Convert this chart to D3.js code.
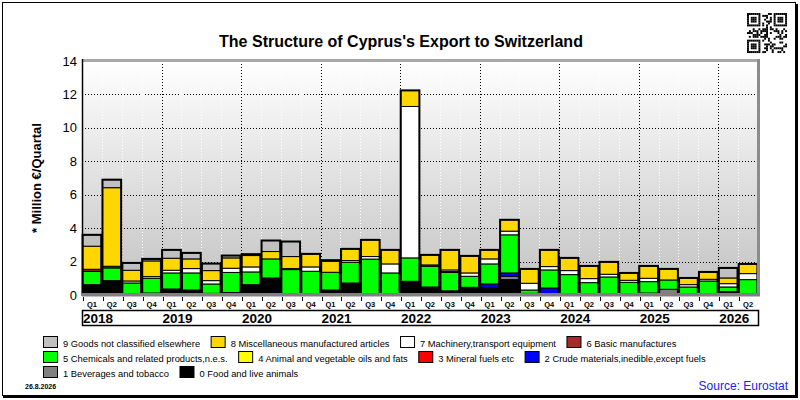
<!DOCTYPE html>
<html><head><meta charset="utf-8">
<script src="https://cdn.jsdelivr.net/npm/d3@7"></script>
<style>body{margin:0;background:#fff}svg{display:block;font-family:"Liberation Sans",Arial,sans-serif}</style>
</head><body><svg id="c" width="800" height="400"></svg>
<script>
// ---- data ----
const periods = ["2018Q1","2018Q2","2018Q3","2018Q4","2019Q1","2019Q2","2019Q3","2019Q4",
  "2020Q1","2020Q2","2020Q3","2020Q4","2021Q1","2021Q2","2021Q3","2021Q4",
  "2022Q1","2022Q2","2022Q3","2022Q4","2023Q1","2023Q2","2023Q3","2023Q4",
  "2024Q1","2024Q2","2024Q3","2024Q4","2025Q1","2025Q2","2025Q3","2025Q4",
  "2026Q1","2026Q2"];
const quarterLabels = ["Q1","Q2","Q3","Q4"];
const years = ["2018","2019","2020","2021","2022","2023","2024","2025","2026"];
const yTicks = [0,2,4,6,8,10,12,14];

const food    = [0.62,0.86,0.05,0.12,0.36,0.3,0.1,0.15,0.62,1.02,0,0,0.3,0.72,0.05,0,0.82,0.48,0.25,0.46,0.46,0.92,0,0,0,0,0,0,0.12,0,0,0,0.2,0];
const bev     = [0,0,0,0,0,0,0,0,0,0,0,0,0,0,0,0,0,0,0,0,0,0.2,0,0,0,0,0,0,0,0.34,0,0,0,0];
const crude   = [0,0,0,0,0,0,0,0,0,0,0,0,0,0,0,0,0,0,0,0,0.2,0.2,0.1,0.42,0,0,0,0,0,0,0,0,0,0];
const mineral = [0,0,0,0,0,0,0,0,0,0,0,0,0,0,0,0,0,0,0,0,0,0,0,0,0,0,0,0,0,0,0,0,0,0];
const animal  = [0,0,0,0,0,0,0,0,0,0,0,0,0,0,0,0,0,0,0,0,0,0,0,0,0,0,0,0,0,0,0,0,0,0];
const chem    = [0.8,0.76,0.67,0.88,0.96,1.02,0.56,1.2,0.76,1.14,1.52,1.42,1.06,1.24,2.1,1.32,1.4,1.24,1.1,0.66,1.2,2.28,0.2,1.08,1.22,0.74,1.08,0.76,0.68,0.56,0.48,0.84,0.28,0.92];
const basic   = [0.12,0.1,0,0,0,0,0,0,0,0,0.06,0,0,0,0,0,0,0.08,0.05,0,0,0,0,0,0,0,0,0,0,0,0,0,0,0];
const mach    = [0,0,0.12,0.1,0.16,0.26,0.2,0.25,0.3,0,0,0.26,0,0.1,0.15,0.54,9.06,0,0.1,0.2,0.3,0.22,0.4,0.2,0.24,0.24,0.16,0.12,0.2,0,0.14,0.1,0.2,0.36];
const misc    = [1.38,4.7,0.64,0.94,0.72,0.58,0.6,0.62,0.68,0.44,0.72,0.78,0.66,0.7,1.0,0.84,0.96,0.6,1.2,1.02,0.54,0.68,0.86,1.0,0.76,0.76,0.74,0.44,0.74,0.66,0.4,0.44,0.34,0.58];
const other   = [0.68,0.48,0.44,0.12,0.5,0.36,0.42,0.14,0.08,0.66,0.9,0,0.06,0,0,0,0,0,0,0,0,0,0,0,0,0,0,0,0,0,0,0,0.6,0];

const seriesKeys   = ["food","bev","crude","mineral","animal","chem","basic","mach","misc","other"];
const seriesNames  = ["0 Food and live animals","1 Beverages and tobacco","2 Crude materials,inedible,except fuels",
  "3 Mineral fuels etc","4 Animal and vegetable oils and fats","5 Chemicals and related products,n.e.s.",
  "6 Basic manufactures","7 Machinery,transport equipment","8 Miscellaneous manufactured articles",
  "9 Goods not classified elsewhere"];
const seriesColors = ["#000000","#808080","#0000ff","#ff0000","#ffff00","#00ff00","#a52a2a","#ffffff","#ffd700","#c0c0c0"];
const seriesValues = [food,bev,crude,mineral,animal,chem,basic,mach,misc,other];
const legendRows = [[9,8,7,6],[5,4,3,2],[1,0]];

const table = periods.map((p,i)=>{const o={period:p}; seriesKeys.forEach((k,j)=>o[k]=seriesValues[j][i]); return o;});

// ---- drawing ----
const svg = d3.select("#c");
const L=82, R=758, T=61, B=295;

// outer frame
svg.append("rect").attr("x",2.5).attr("y",2.5).attr("width",793).attr("height",393).attr("fill","#fff").attr("stroke","#000").attr("stroke-width",1);
svg.append("line").attr("x1",3).attr("x2",798).attr("y1",396.5).attr("y2",396.5).attr("stroke","#000").attr("stroke-width",3);
svg.append("line").attr("x1",796.5).attr("x2",796.5).attr("y1",4).attr("y2",398).attr("stroke","#000").attr("stroke-width",3);

const x = d3.scaleBand().domain(periods).range([L,R]).paddingInner(0.06).paddingOuter(0.03);
const y = d3.scaleLinear().domain([0,14]).range([B,T]);
const step = x.step();

const defs = svg.append("defs");
const g = defs.append("linearGradient").attr("id","bg").attr("x1",0).attr("y1",0).attr("x2",0).attr("y2",1);
g.append("stop").attr("offset","0%").attr("stop-color","#ffffff");
g.append("stop").attr("offset","100%").attr("stop-color","#c2c2c2");

svg.append("rect").attr("x",L).attr("y",T).attr("width",R-L).attr("height",B-T).attr("fill","url(#bg)");

// grid
svg.append("g").selectAll("line").data(yTicks.filter(v=>v>0&&v<14)).join("line")
  .attr("x1",L).attr("x2",R).attr("y1",d=>Math.round(y(d))+0.5).attr("y2",d=>Math.round(y(d))+0.5)
  .attr("stroke","#000").attr("stroke-width",1).attr("stroke-dasharray","1,2");
const bounds = d3.range(1,periods.length);
svg.append("g").selectAll("line").data(bounds).join("line")
  .attr("x1",i=>Math.round(L+i*step)+0.5).attr("x2",i=>Math.round(L+i*step)+0.5)
  .attr("y1",T).attr("y2",B)
  .attr("stroke",i=>i%4===0?"#000":"#fff").attr("stroke-width",1).attr("stroke-dasharray","1,2");

// stacked bars
const stack = d3.stack().keys(seriesKeys)(table);
const bw = x.bandwidth();
const barG = svg.append("g");
stack.forEach((layer,j)=>{
  barG.append("g").selectAll("rect").data(layer.filter(d=>d[1]-d[0]>0)).join("rect")
    .attr("x",d=>x(d.data.period)).attr("width",bw)
    .attr("y",d=>y(d[1])).attr("height",d=>y(d[0])-y(d[1]))
    .attr("fill",seriesColors[j]).attr("stroke","#000").attr("stroke-width",1);
});
const totals = table.map(d=>({period:d.period,total:d3.sum(seriesKeys,k=>d[k])}));
barG.append("g").selectAll("rect").data(totals).join("rect")
  .attr("x",d=>x(d.period)).attr("width",bw)
  .attr("y",d=>y(d.total)).attr("height",d=>y(0)-y(d.total))
  .attr("fill","none").attr("stroke","#000").attr("stroke-width",2);

// plot frame
svg.append("line").attr("x1",L).attr("x2",R+2).attr("y1",T-0.5).attr("y2",T-0.5).attr("stroke","#a8a8a8").attr("stroke-width",3);
svg.append("line").attr("x1",R+0.5).attr("x2",R+0.5).attr("y1",T-2).attr("y2",B).attr("stroke","#8c8c8c").attr("stroke-width",3);
svg.append("line").attr("x1",L+0.5).attr("x2",L+0.5).attr("y1",T-2).attr("y2",B).attr("stroke","#000").attr("stroke-width",1.5);
svg.append("rect").attr("x",L).attr("y",293).attr("width",R-L+2).attr("height",3.5).attr("fill","#808080");

// x ticks and labels
svg.append("g").selectAll("line").data(d3.range(0,periods.length)).join("line")
  .attr("x1",i=>Math.round(L+i*step)+1.5).attr("x2",i=>Math.round(L+i*step)+1.5)
  .attr("y1",297).attr("y2",301).attr("stroke","#000").attr("stroke-width",1);
svg.append("g").selectAll("text").data(periods).join("text")
  .attr("x",d=>x(d)+bw/2).attr("y",306.5).attr("text-anchor","middle")
  .attr("font-size","7.5px").attr("font-weight","bold").attr("fill","#000")
  .text(d=>quarterLabels[+d.slice(5)-1]);

svg.append("rect").attr("x",L+0.5).attr("y",310.5).attr("width",R-L).attr("height",15)
  .attr("fill","#fff").attr("stroke","#000").attr("stroke-width",1.5);
svg.append("g").selectAll("text").data(years).join("text")
  .attr("x",(d,i)=>L+1+i*4*step).attr("y",322.5)
  .attr("font-size","13.5px").attr("font-weight","bold").attr("fill","#000").text(d=>d);

// y ticks
svg.append("g").selectAll("text").data(yTicks).join("text")
  .attr("x",77).attr("y",d=>y(d)+4.5).attr("text-anchor","end")
  .attr("font-size","13px").attr("fill","#000").text(d=>d);

svg.append("text").attr("transform","translate(41,178) rotate(-90)").attr("text-anchor","middle")
  .attr("font-size","13px").attr("font-weight","bold").attr("fill","#000").text("* Million €/Quartal");

// title
svg.append("text").attr("x",401).attr("y",47).attr("text-anchor","middle")
  .attr("font-size","16px").attr("font-weight","bold").attr("fill","#000")
  .text("The Structure of Cyprus's Export to Switzerland");

// legend
const legY = [336,351,366];
legendRows.forEach((row,r)=>{
  let cx = 43;
  row.forEach(j=>{
    svg.append("rect").attr("x",cx+0.5).attr("y",legY[r]+0.5).attr("width",14).attr("height",11)
      .attr("fill",seriesColors[j]).attr("stroke","#000").attr("stroke-width",1);
    const t = svg.append("text").attr("x",cx+20).attr("y",legY[r]+10.5)
      .attr("font-size","9.35px").attr("fill","#000").text(seriesNames[j]);
    cx = cx + 20 + t.node().getComputedTextLength() + 10.5;
  });
});

svg.append("text").attr("x",25).attr("y",389).attr("font-size","7px").attr("font-weight","bold").text("26.8.2026");
svg.append("text").attr("x",788).attr("y",390).attr("text-anchor","end").attr("font-size","12px").attr("fill","#2020ff").text("Source: Eurostat");

// decorative QR-like mark
const qrSeed = "https://www.eurostat.ec.europa.eu/CY-CH-export";
const N=21, m=40/N, qx=747, qy=13;
const qr = svg.append("g");
let h = 0;
for (let i=0;i<qrSeed.length;i++) h = (h*31 + qrSeed.charCodeAt(i))>>>0;
function finder(r,c){return (r<7&&c<7)||(r<7&&c>=N-7)||(r>=N-7&&c<7);}
function finderOn(r,c){const rr=r<7?r:r-(N-7), cc=c<7?c:c-(N-7); const a=Math.max(Math.abs(rr-3),Math.abs(cc-3)); return a!==2;}
for (let r=0;r<N;r++) for (let c=0;c<N;c++){
  let on;
  if (finder(r,c)) on = finderOn(r,c);
  else if ((r===7&&c<8)||(c===7&&r<8)||(r===7&&c>=N-8)||(c===N-8&&r<8)||(r===N-8&&c<8)||(c===7&&r>=N-8)) on=false;
  else { h = (h*1103515245 + 12345)>>>0; on = ((h>>>16)&3)<2; }
  if (on) qr.append("rect").attr("x",qx+c*m).attr("y",qy+r*m).attr("width",m+0.05).attr("height",m+0.05).attr("fill","#000");
}
</script>
</body></html>
